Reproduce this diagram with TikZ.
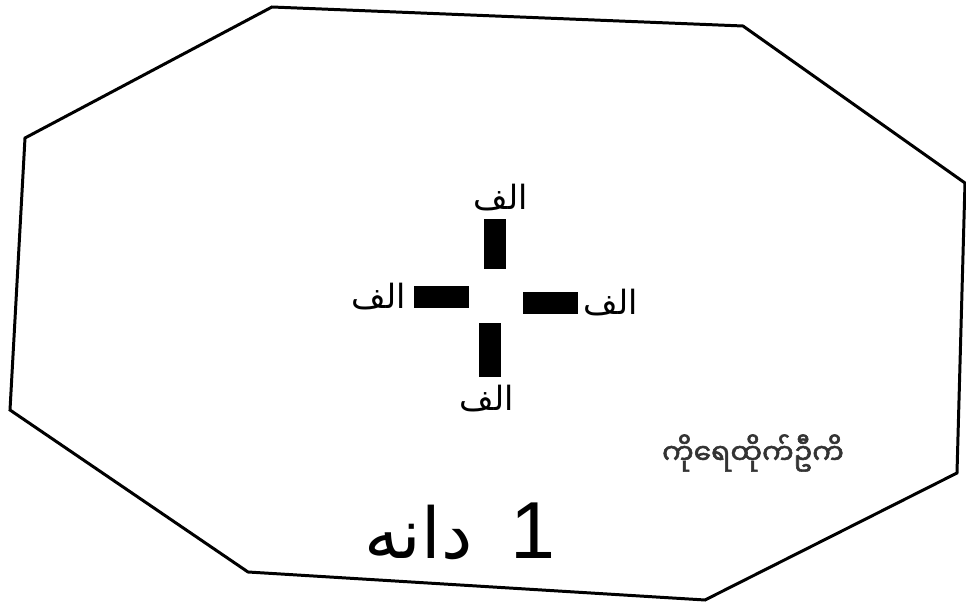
\documentclass[tikz,border=0pt]{standalone}
\usepackage{fontspec}
\usetikzlibrary{positioning}
\TeXXeTstate=1
\newfontfamily\arabicfont[Script=Arabic]{DejaVu Sans}
\newfontfamily\digitfont{Liberation Sans}
\newfontfamily\myanmarfont[Script=Myanmar, FakeBold=2]{Noto Sans Myanmar UI}

\begin{document}
\begin{tikzpicture}[line width=0.85pt, node distance=0.05cm]

% --- Style Definitions ---
% Bars of the cross (black blocks)
\tikzstyle{bar_v}=[rectangle, fill=black, inner sep=0pt, minimum width=0.22cm, minimum height=0.5cm]
\tikzstyle{bar_h}=[rectangle, fill=black, inner sep=0pt, minimum width=0.55cm, minimum height=0.22cm]
% Arabic labels
\tikzstyle{alef_label}=[inner sep=0pt, font=\arabicfont\fontsize{9.5}{11}\selectfont]
\tikzstyle{count_label}=[inner sep=0pt, font=\arabicfont\fontsize{20}{24}\selectfont]
\tikzstyle{sign_label}=[inner sep=0pt, text=black!80, font=\myanmarfont\fontsize{8}{10}\selectfont]

\useasboundingbox (0,0) rectangle (9.66,6.03);

% --- 1. Outline (octagon) ---
\draw (2.72,5.96) -- (7.43,5.77) -- (9.65,4.20) -- (9.57,1.30)
  -- (7.05,0.03) -- (2.48,0.31) -- (0.10,1.93) -- (0.25,4.65) -- cycle;

% --- 2. The cross ---
\node[bar_v] (Bar_T) at (4.95,3.59) {};
\node[bar_h] (Bar_L) at (4.41,3.06) {};
\node[bar_h] (Bar_R) at (5.51,3.00) {};
\node[bar_v, minimum height=0.54cm] (Bar_B) at (4.90,2.53) {};

% Labels round the cross
\node[alef_label, above=of Bar_T, xshift=0.06cm] (Lbl_T) {\beginR الف\endR};
\node[alef_label, left=of Bar_L] (Lbl_L) {\beginR الف\endR};
\node[alef_label, right=0.02cm of Bar_R] (Lbl_R) {\beginR الف\endR};
\node[alef_label, below=of Bar_B, xshift=-0.03cm] (Lbl_B) {\beginR الف\endR};

% --- 3. Signature and count ---
\node[sign_label] (Sign) at (7.53,1.50) {ကိုရေထိုက်ဦကိ};
\node[count_label] (Count) at (4.60,0.72)
  {\beginR{\digitfont\fontsize{23}{27}\selectfont 1}\hspace{0.16cm} دانه\endR};

\end{tikzpicture}
\end{document}
